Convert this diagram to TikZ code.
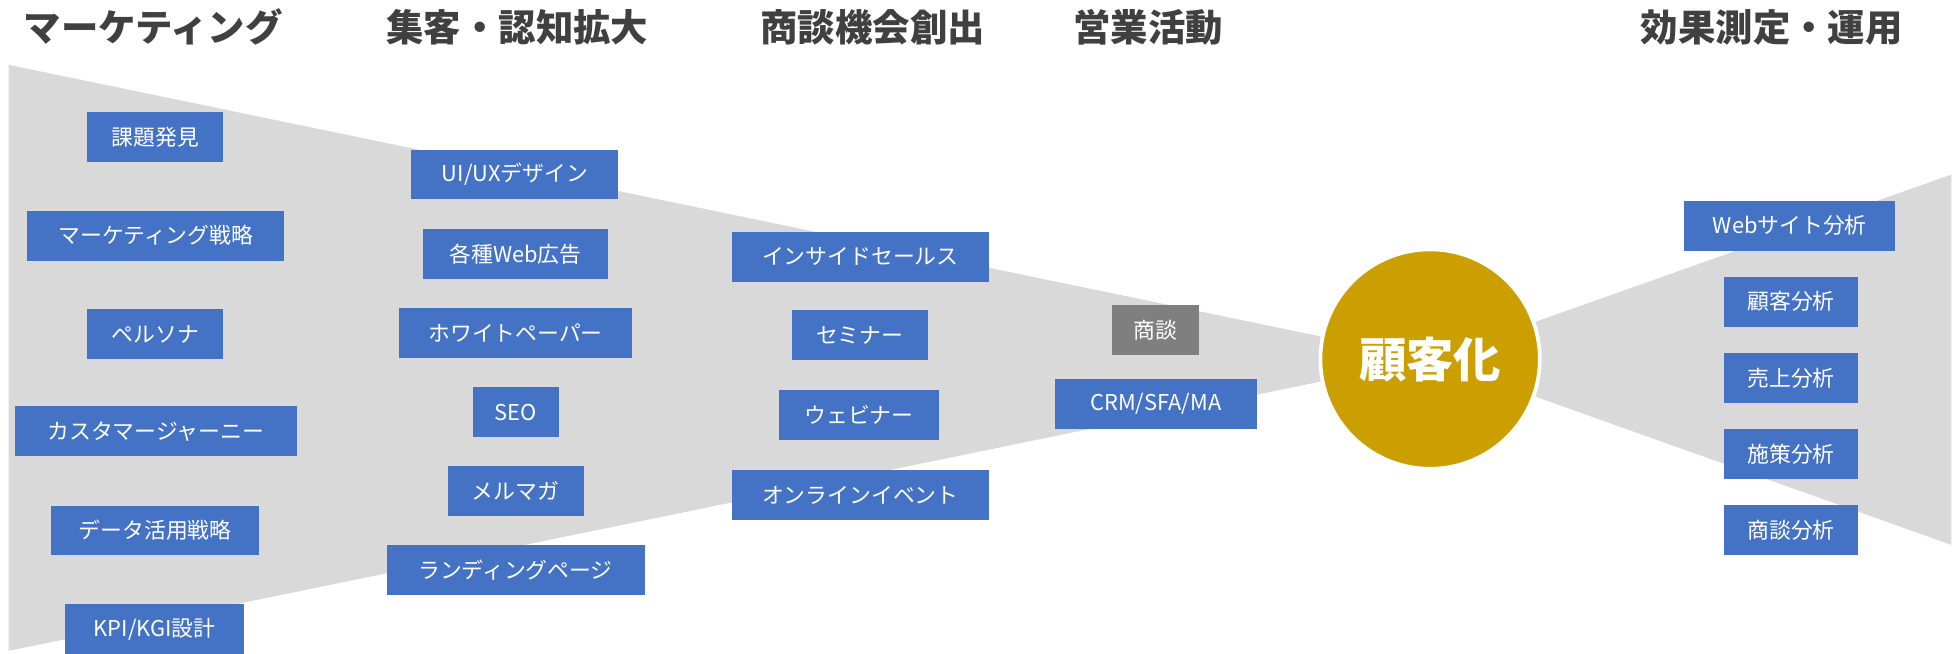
\documentclass[tikz,border=0pt]{standalone}
\usepackage{fontspec}
\setmainfont{Noto Sans CJK JP}
\definecolor{boxblue}{RGB}{68,114,196}
\definecolor{boxgray}{RGB}{127,127,127}
\definecolor{funnelgray}{RGB}{217,217,217}
\definecolor{titlegray}{RGB}{64,64,64}
\definecolor{gold}{RGB}{204,159,0}
\tikzset{
  box/.style={fill=boxblue, text=white, inner sep=0pt, minimum height=40pt, font=\fontsize{17.5}{19}\selectfont},
  graybox/.style={box, fill=boxgray},
  title/.style={text=titlegray, font=\fontsize{30}{34}\selectfont\bfseries, inner sep=0pt},
  funnel/.style={fill=funnelgray, draw=none},
}
\begin{document}
\begin{tikzpicture}[x=1pt, y=-1pt]
\useasboundingbox (0,0) rectangle (1568,524);
% titles
\node[title] (t1) at (123,22) {マーケティング};
\node[title] (t2) at (415,22) {集客・認知拡大};
\node[title] (t3) at (700,22) {商談機会創出};
\node[title] (t4) at (921,22) {営業活動};
\node[title] (t5) at (1421,22) {効果測定・運用};
% funnels
\coordinate (apex) at (1147,288);
\fill[funnel] (7,52) -- (apex) -- (7,522) -- cycle;
\fill[funnel] (1565,140) -- (apex) -- (1565,437) -- cycle;
% column 1
\node[box, minimum width=109pt] (a1) at (124.5,110) {課題発見};
\node[box, minimum width=206pt] (a2) at (125,189) {マーケティング戦略};
\node[box, minimum width=109pt] (a3) at (124.5,268) {ペルソナ};
\node[box, minimum width=226pt] (a4) at (125,346) {カスタマージャーニー};
\node[box, minimum width=167pt] (a5) at (124.5,425.5) {データ活用戦略};
\node[box, minimum width=144pt] (a6) at (124,504.5) {KPI/KGI設計};
% column 2
\node[box, minimum width=166pt] (b1) at (413,140) {UI/UXデザイン};
\node[box, minimum width=149pt] (b2) at (413.5,203.5) {各種Web広告};
\node[box, minimum width=187pt] (b3) at (413.5,267) {ホワイトペーパー};
\node[box, minimum width=69pt] (b4) at (413.5,330.5) {SEO};
\node[box, minimum width=109pt] (b5) at (413.5,394) {メルマガ};
\node[box, minimum width=207pt] (b6) at (413.5,457) {ランディングページ};
% column 3
\node[box, minimum width=206pt] (c1) at (690,206) {インサイドセールス};
\node[box, minimum width=109pt] (c2) at (689.5,269) {セミナー};
\node[box, minimum width=128pt] (c3) at (689,333) {ウェビナー};
\node[box, minimum width=206pt] (c4) at (690,397) {オンラインイベント};
% column 4
\node[graybox, minimum width=70pt] (d1) at (927,265) {商談};
\node[box, minimum width=162pt] (d2) at (927,324) {CRM/SFA/MA};
% circle
\node[circle, fill=gold, draw=white, line width=3pt, minimum size=176pt, inner sep=0pt,
      text=white, font=\fontsize{38}{40}\selectfont\bfseries] (goal) at (apex) {顧客化};
% column 5
\node[box, minimum width=169pt] (e1) at (1435.5,181) {Webサイト分析};
\node[box, minimum width=107pt] (e2) at (1436.5,242) {顧客分析};
\node[box, minimum width=107pt] (e3) at (1436.5,303) {売上分析};
\node[box, minimum width=107pt] (e4) at (1436.5,364) {施策分析};
\node[box, minimum width=107pt] (e5) at (1436.5,425) {商談分析};
\end{tikzpicture}
\end{document}
